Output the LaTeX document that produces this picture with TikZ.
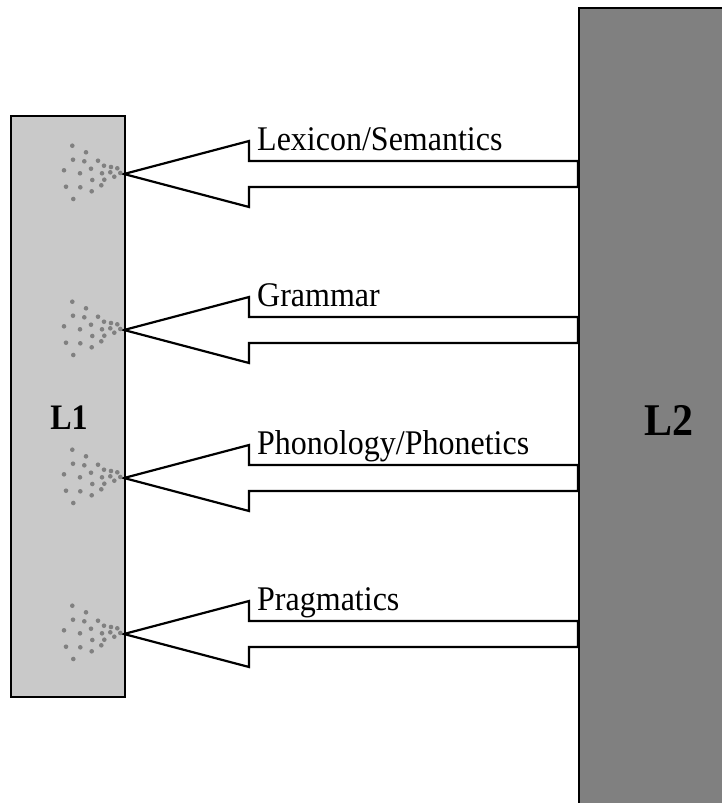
\documentclass[tikz,border=0pt]{standalone}
\usepackage{fontspec}
\setmainfont{Liberation Serif}
\usetikzlibrary{calc}
\tikzset{
  box/.style={draw=black, line width=2.2pt, inner sep=0pt, anchor=north west},
  blockarrow/.style={draw=black, fill=white, line width=2.2pt, line join=miter},
  lbl/.style={anchor=base west, inner sep=0pt, font=\fontsize{32}{38}\selectfont},
  biglbl/.style={inner sep=0pt, font=\bfseries},
  spray/.style={fill=black!50, draw=none}
}
\newcommand{\sprayat}[1]{%
  \foreach \dx/\dy in {-51.7/-28.3,-38/-21.7,-51/-14.3,-39.7/-12.7,-26/-13.3,-20/-8.3,-13/-7,-6.7/-5.7,-60/-3.7,-33/-5.3,-44/-0.7,-22/-0.7,-13.7/-1.7,-3.7/-1,-9.7/2.7,-19.7/5.7,-31.7/6,-58/12.7,-43.7/13.3,-22.7/11.3,-32.3/17.3,-50.7/25}{
    \fill[spray] ($(#1)+(\dx,\dy)$) circle (2.3pt);
  }}
\newcommand{\transferarrow}[3]{%
  % #1 name, #2 y centre, #3 label
  \coordinate (#1tip) at (124,#2);
  \draw[blockarrow] (#1tip) -- (249,#2-33) -- (249,#2-13) -- (L2.west |- 0,#2-13)
    -- (L2.west |- 0,#2+13) -- (249,#2+13) -- (249,#2+33) -- cycle;
  \node[lbl] (#1label) at (257,#2-23.5) {\scalebox{1}[1.08]{#3}};
  \sprayat{#1tip}}
\begin{document}
\begin{tikzpicture}[x=1pt,y=-1pt]
  \useasboundingbox (0,0) rectangle (722,803);
  \clip (0,0) rectangle (722,803);
  \fill[white] (0,0) rectangle (722,803);
  \node[box, fill=black!21, minimum width=114pt, minimum height=581pt] (L1) at (10,115) {};
  \node[box, fill=black!50, minimum width=170pt, minimum height=820pt] (L2) at (578,7) {};
  \node[biglbl, font=\bfseries\fontsize{32}{36}\selectfont] (L1text) at (69,418) {\scalebox{1}[1.12]{L1}};
  \node[biglbl, font=\bfseries\fontsize{42}{48}\selectfont] (L2text) at (669,420) {\scalebox{1}[1.08]{L2}};
  \transferarrow{lex}{174}{Lexicon/Semantics}
  \transferarrow{gram}{330}{Grammar}
  \transferarrow{phon}{478}{Phonology/Phonetics}
  \transferarrow{prag}{634}{Pragmatics}
\end{tikzpicture}
\end{document}
